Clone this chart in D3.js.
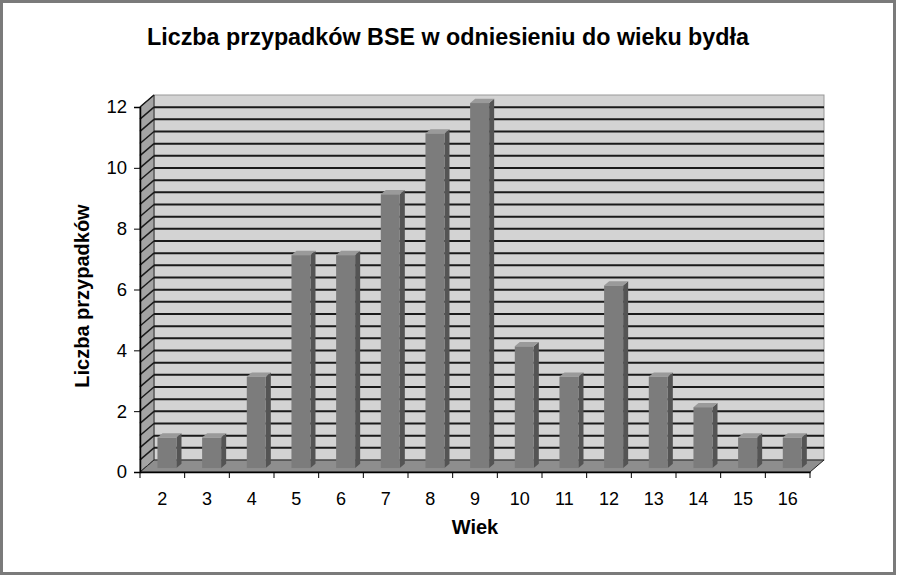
<!DOCTYPE html>
<html><head><meta charset="utf-8">
<script src="https://cdn.jsdelivr.net/npm/d3@7/dist/d3.min.js"></script>
<style>body{margin:0;background:#fff}svg{display:block;font-family:Arial,"Liberation Sans",sans-serif}</style>
</head><body><svg id="c" width="897" height="576"></svg>
<script>
const categories = ["2","3","4","5","6","7","8","9","10","11","12","13","14","15","16"];
const values = [1,1,3,7,7,9,11,12,4,3,6,3,2,1,1];
const yTicks = [0,2,4,6,8,10,12];
const titleText = "Liczba przypadków BSE w odniesieniu do wieku bydła";
const yLabel = "Liczba przypadków";
const xLabel = "Wiek";

const svg = d3.select("#c");
const W = 897, H = 576;
// frame
svg.append("rect").attr("x",1.5).attr("y",1.5).attr("width",W-4).attr("height",H-4)
  .attr("fill","#fff").attr("stroke","#7a7a7a").attr("stroke-width",3);

const x = d3.scaleBand().domain(categories).range([140,810]);
const y = d3.scaleLinear().domain([0,12]).range([472,107]);
const DX = 14, DY = -12;

const g = svg.append("g");
// back wall
g.append("rect").attr("x",x.range()[0]+DX).attr("y",y(12)+DY).attr("width",x.range()[1]-x.range()[0])
  .attr("height",y(0)-y(12)).attr("fill","#d3d3d3").attr("stroke","#999").attr("stroke-width",1);
// side wall
const sw = [[140,y(0)],[140+DX,y(0)+DY],[140+DX,y(12)+DY],[140,y(12)]];
g.append("polygon").attr("points",sw.map(p=>p.join(",")).join(" ")).attr("fill","#a4a4a4").attr("stroke","#333").attr("stroke-width",1);
// floor
const fl = [[140,y(0)],[810,y(0)],[810+DX,y(0)+DY],[140+DX,y(0)+DY]];
g.append("polygon").attr("points",fl.map(p=>p.join(",")).join(" ")).attr("fill","#8e8e8e").attr("stroke","#222").attr("stroke-width",1);

// gridlines every 0.4
const grid = d3.range(1,30).map(i=>i*0.4);
g.selectAll(".gl").data(grid).join("line")
  .attr("x1",140+DX).attr("x2",810+DX)
  .attr("y1",d=>y(d)+DY).attr("y2",d=>y(d)+DY)
  .attr("stroke","#1a1a1a").attr("stroke-width",2);
g.selectAll(".sl").data(grid.concat([12])).join("line")
  .attr("x1",140).attr("x2",140+DX)
  .attr("y1",d=>y(d)).attr("y2",d=>y(d)+DY)
  .attr("stroke","#1a1a1a").attr("stroke-width",1.5);
// dotted floor edge
g.append("line").attr("x1",140).attr("y1",y(0)).attr("x2",140+DX).attr("y2",y(0)+DY)
  .attr("stroke","#444").attr("stroke-dasharray","1.5,1.5");

// bars
const f0 = 0.33, f1 = 0.69, bw = 19;
const bars = g.selectAll(".bar").data(values.map((v,i)=>({c:categories[i],v}))).join("g");
bars.each(function(d){
  const s = d3.select(this);
  const xl = x(d.c) + (x.bandwidth()-bw)/2 + DX*f0;
  const xr = xl + bw;
  const yb = y(0) + DY*f0;
  const yt = y(d.v) + DY*f0;
  const ddx = DX*(f1-f0), ddy = DY*(f1-f0);
  s.append("polygon").attr("points",[[xr,yb],[xr+ddx,yb+ddy],[xr+ddx,yt+ddy],[xr,yt]].map(p=>p.join(",")).join(" "))
    .attr("fill","#545454");
  s.append("polygon").attr("points",[[xl,yt],[xr,yt],[xr+ddx,yt+ddy],[xl+ddx,yt+ddy]].map(p=>p.join(",")).join(" "))
    .attr("fill","#9a9a9a");
  s.append("rect").attr("x",xl).attr("y",yt).attr("width",bw).attr("height",yb-yt).attr("fill","#7c7c7c");
});

// axes
const ya = d3.axisLeft(y).tickValues(yTicks).tickSize(6).tickPadding(7);
const yg = svg.append("g").attr("transform","translate(140,0)").call(ya);
yg.select(".domain").attr("stroke","#000").attr("stroke-width",1.5);
yg.selectAll(".tick line").attr("stroke","#000");
yg.selectAll("text").attr("font-size",18.5).attr("font-family","Arial,'Liberation Sans',sans-serif").attr("fill","#000");

const xa = d3.axisBottom(x).tickSize(0).tickPadding(20);
const xg = svg.append("g").attr("transform",`translate(0,${y(0)})`).call(xa);
xg.select(".domain").attr("stroke","#000").attr("stroke-width",1.5);
xg.selectAll("text").attr("font-size",18).attr("font-family","Arial,'Liberation Sans',sans-serif").attr("fill","#000");
xg.selectAll(".bt").data(categories.concat(["_end"])).join("line")
  .attr("x1",(d,i)=>140+i*x.step()).attr("x2",(d,i)=>140+i*x.step())
  .attr("y1",0).attr("y2",6).attr("stroke","#000");

// titles
svg.append("text").attr("x",448).attr("y",45).attr("text-anchor","middle")
  .attr("font-size",23.3).attr("font-weight","bold").text(titleText);
svg.append("text").attr("transform","translate(89,296) rotate(-90)").attr("text-anchor","middle")
  .attr("font-size",20).attr("font-weight","bold").text(yLabel);
svg.append("text").attr("x",475).attr("y",534).attr("text-anchor","middle")
  .attr("font-size",20).attr("font-weight","bold").text(xLabel);
</script></body></html>
